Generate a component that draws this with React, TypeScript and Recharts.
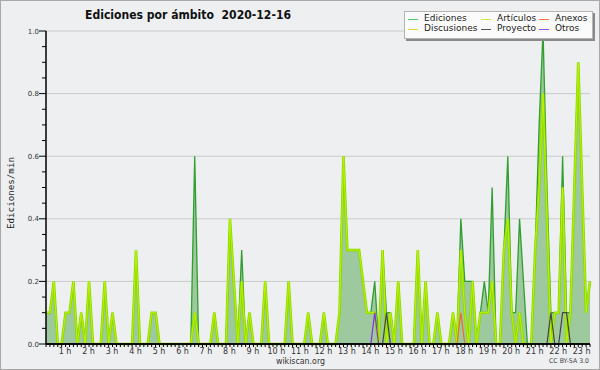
import React from 'react';
import {
  ComposedChart,
  Area,
  Line,
  XAxis,
  YAxis,
  CartesianGrid,
  ReferenceLine,
  Legend,
} from 'recharts';

// one value every 10 minutes, 00:00 .. 23:10 (ediciones / min)
const ediciones = [
  0.1, 0.1, 0.2, 0, 0, 0.1, 0.1, 0.2, 0, 0.1,
  0, 0.2, 0, 0, 0, 0.2, 0, 0.1, 0, 0,
  0, 0, 0, 0.3, 0, 0, 0, 0.1, 0.1, 0,
  0, 0, 0, 0, 0, 0, 0, 0, 0.6, 0,
  0, 0, 0, 0.1, 0, 0, 0, 0.4, 0.2, 0,
  0.3, 0, 0.1, 0, 0, 0, 0.2, 0, 0, 0,
  0, 0, 0.2, 0, 0, 0, 0, 0.1, 0, 0,
  0, 0.1, 0, 0, 0, 0.1, 0.6, 0.3, 0.3, 0.3,
  0.3, 0.2, 0.1, 0.1, 0.2, 0, 0.3, 0.1, 0.1, 0,
  0.2, 0, 0, 0, 0, 0.3, 0, 0.2, 0, 0,
  0.1, 0, 0, 0, 0.1, 0, 0.4, 0.2, 0.2, 0.2,
  0, 0.1, 0.2, 0.1, 0.5, 0, 0, 0.3, 0.6, 0.1,
  0.1, 0.4, 0.2, 0, 0, 0.3, 0.7, 1.0, 0.5, 0.1,
  0.1, 0.1, 0.6, 0.1, 0.1, 0.5, 0.9, 0.5, 0.1, 0.2,
];

const articulos = [
  0.1, 0.1, 0.2, 0, 0, 0.1, 0.1, 0.2, 0, 0.1,
  0, 0.2, 0, 0, 0, 0.2, 0, 0.1, 0, 0,
  0, 0, 0, 0.3, 0, 0, 0, 0.1, 0.1, 0,
  0, 0, 0, 0, 0, 0, 0, 0, 0.1, 0,
  0, 0, 0, 0.1, 0, 0, 0, 0.4, 0.2, 0,
  0.2, 0, 0.1, 0, 0, 0, 0.2, 0, 0, 0,
  0, 0, 0.2, 0, 0, 0, 0, 0.1, 0, 0,
  0, 0.1, 0, 0, 0, 0.1, 0.6, 0.3, 0.3, 0.3,
  0.3, 0.2, 0.1, 0.1, 0.1, 0, 0.3, 0, 0.1, 0,
  0.2, 0, 0, 0, 0, 0.3, 0, 0.2, 0, 0,
  0.1, 0, 0, 0, 0.1, 0, 0.3, 0.1, 0, 0.2,
  0, 0.1, 0.1, 0.1, 0.2, 0, 0, 0.3, 0.4, 0.1,
  0, 0.1, 0, 0, 0, 0.3, 0.5, 0.8, 0.4, 0,
  0.1, 0.1, 0.5, 0, 0.1, 0.5, 0.9, 0.5, 0.1, 0.2,
];

// sparse series: [slot, value]
const anexos: [number, number][] = [[105, 0], [106, 0.1], [107, 0]];
const proyecto: [number, number][] = [
  [86, 0], [87, 0.1], [88, 0],
  [128, 0], [129, 0.1], [130, 0], [131, 0], [132, 0.1], [133, 0.1], [134, 0],
];
const otros: [number, number][] = [[83, 0], [84, 0.1], [85, 0]];

const hourLabels = [
  '1 h', '2 h', '3 h', '4 h', '5 h', '6 h', '7 h', '8 h', '9 h', '10 h', '11 h', '12 h',
  '13 h', '14 h', '15 h', '16 h', '17 h', '18 h', '19 h', '20 h', '21 h', '22 h', '23 h',
];
const yTicks = [
  0, 0.05, 0.1, 0.15, 0.2, 0.25, 0.3, 0.35, 0.4, 0.45, 0.5,
  0.55, 0.6, 0.65, 0.7, 0.75, 0.8, 0.85, 0.9, 0.95, 1.0,
];
const gridValues = [0.2, 0.4, 0.6, 0.8, 1.0];

const legendItems = [
  { name: 'Ediciones', color: '#64c864' },
  { name: 'Artículos', color: '#c6ee46' },
  { name: 'Anexos', color: '#f07a3c' },
  { name: 'Discusiones', color: '#f2d24a' },
  { name: 'Proyecto', color: '#555555' },
  { name: 'Otros', color: '#9a52ee' },
];

const sparseAt = (pts: [number, number][], k: number) => {
  const p = pts.find((d) => d[0] === k);
  return p ? p[1] : null;
};

const rows = ediciones.map((v, k) => ({
  k,
  ediciones: v,
  articulos: articulos[k],
  anexos: sparseAt(anexos, k),
  proyecto: sparseAt(proyecto, k),
  otros: sparseAt(otros, k),
}));

const xTicks = rows.map((r) => r.k);

const XTick = (props: any) => {
  const { x, y, payload } = props;
  const k = payload.value;
  if (k === 0 || k % 6 !== 0) return <g />;
  return (
    <text
      x={x - 4.4}
      y={y + 7}
      textAnchor="middle"
      fontSize={8}
      fontFamily="DejaVu Sans"
      fill="#333"
    >
      {hourLabels[k / 6 - 1]}
    </text>
  );
};

const YTick = (props: any) => {
  const { x, y, payload } = props;
  const v = payload.value;
  const major = Math.abs(v * 5 - Math.round(v * 5)) < 1e-6;
  return (
    <g>
      <line x1={x - (major ? 7 : 4)} x2={x} y1={y} y2={y} stroke="#000" />
      {major && (
        <text
          x={x - 7}
          y={y + 2.5}
          textAnchor="end"
          fontSize={7}
          fontFamily="DejaVu Sans"
          fill="#333"
        >
          {v.toFixed(1)}
        </text>
      )}
    </g>
  );
};

const LegendBox = () => (
  <div
    style={{
      position: 'relative',
      width: 187,
      height: 26,
      background: '#fbfbfb',
      border: '1px solid #b4b4b4',
      boxShadow: '2px 2px 0 #8a8a8a',
      fontFamily: 'DejaVu Sans',
      fontSize: 9,
      color: '#222',
    }}
  >
    {legendItems.map((it, i) => {
      const col = i % 3;
      const row = Math.floor(i / 3);
      const left = [3, 76, 134][col];
      const top = row === 0 ? 7 : 17;
      return (
        <div key={it.name} style={{ position: 'absolute', left, top }}>
          <div
            style={{
              position: 'absolute',
              left: 0,
              top: 0,
              width: 10,
              height: 1,
              background: it.color,
            }}
          />
          <div
            style={{
              position: 'absolute',
              left: 16,
              top: -6,
              whiteSpace: 'nowrap',
              lineHeight: '11px',
            }}
          >
            {it.name}
          </div>
        </div>
      );
    })}
  </div>
);

const App = () => {
  return (
    <div
      style={{
        position: 'absolute',
        left: 0,
        top: 0,
        width: 600,
        height: 370,
        background: '#eeeff1',
        fontFamily: 'DejaVu Sans',
      }}
    >
      <ComposedChart
        width={600}
        height={370}
        data={rows}
        margin={{ top: 31, right: 10, bottom: 0, left: 0 }}
      >
        <CartesianGrid
          vertical={false}
          horizontalValues={gridValues}
          stroke="#cbcbcb"
        />
        <XAxis
          dataKey="k"
          type="number"
          domain={[0, 139]}
          ticks={xTicks}
          interval={0}
          height={26}
          tickSize={3}
          tickMargin={0}
          axisLine={{ stroke: '#000', strokeWidth: 1.5 }}
          tickLine={{ stroke: '#000' }}
          tick={(p: any) => <XTick {...p} />}
        />
        <YAxis
          type="number"
          domain={[0, 1]}
          ticks={yTicks}
          interval={0}
          width={46}
          tickLine={false}
          tickSize={0}
          tickMargin={0}
          axisLine={{ stroke: '#000', strokeWidth: 1.5 }}
          tick={(p: any) => <YTick {...p} />}
        />
        <Area
          dataKey="ediciones"
          type="linear"
          fill="#9ec99e"
          fillOpacity={1}
          stroke="#2f9f2f"
          strokeWidth={1.3}
          isAnimationActive={false}
        />
        <Line
          dataKey="articulos"
          type="linear"
          stroke="#86dc00"
          strokeWidth={2.6}
          dot={false}
          isAnimationActive={false}
        />
        <Line
          dataKey="articulos"
          name="articulos-core"
          type="linear"
          stroke="#c8f200"
          strokeWidth={0.9}
          dot={false}
          legendType="none"
          isAnimationActive={false}
        />
        <Line
          dataKey="anexos"
          type="linear"
          stroke="#f06a28"
          strokeWidth={1.2}
          dot={false}
          isAnimationActive={false}
        />
        <Line
          dataKey="proyecto"
          type="linear"
          stroke="#444"
          strokeWidth={1.2}
          dot={false}
          isAnimationActive={false}
        />
        <Line
          dataKey="otros"
          type="linear"
          stroke="#8a2be2"
          strokeWidth={1.2}
          dot={false}
          isAnimationActive={false}
        />
        <ReferenceLine y={0} stroke="#000" strokeWidth={1.5} />
        <Legend
          layout="horizontal"
          verticalAlign="middle"
          align="center"
          content={() => <LegendBox />}
          wrapperStyle={{ left: 404, top: 11, width: 190, height: 30 }}
        />
      </ComposedChart>
      <svg
        width={600}
        height={370}
        style={{ position: 'absolute', left: 0, top: 0, pointerEvents: 'none' }}
      >
        <rect x={0.5} y={0.5} width={599} height={369} fill="none" stroke="#a8a8a8" />
        <text
          x={85}
          y={19}
          fontSize={13}
          fontWeight="bold"
          fontFamily="DejaVu Sans"
          fill="#111"
          textLength={206}
          lengthAdjust="spacingAndGlyphs"
          style={{ whiteSpace: 'pre' }}
        >
          {'Ediciones por ámbito  2020-12-16'}
        </text>
        <text
          transform="translate(14, 229) rotate(-90)"
          fontSize={9}
          fontFamily="DejaVu Sans Mono"
          fill="#222"
          textLength={72}
          lengthAdjust="spacingAndGlyphs"
        >
          Ediciones/min
        </text>
        <text
          x={276}
          y={364}
          fontSize={9}
          fontFamily="DejaVu Sans"
          fill="#333"
          textLength={49}
          lengthAdjust="spacingAndGlyphs"
        >
          wikiscan.org
        </text>
        <text
          x={549}
          y={363}
          fontSize={6.5}
          fontFamily="DejaVu Sans"
          fill="#444"
          textLength={40}
          lengthAdjust="spacingAndGlyphs"
        >
          CC BY-SA 3.0
        </text>
      </svg>
    </div>
  );
};

export default App;
